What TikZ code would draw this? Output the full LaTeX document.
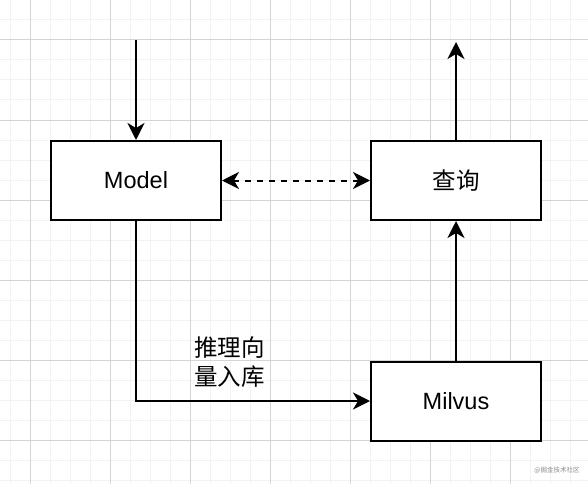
\documentclass[tikz,border=0pt]{standalone}
\usepackage{fontspec}
\setmainfont{Liberation Sans}
\newfontfamily\cjk{Noto Sans CJK SC}
\usetikzlibrary{arrows.meta}
\definecolor{minorgrid}{HTML}{F2F2F2}
\definecolor{majorgrid}{HTML}{D4D4D4}
\definecolor{wmark}{HTML}{8A8A8A}
\begin{document}
\begin{tikzpicture}[x=1pt,y=-1pt,
  box/.style={draw=black,line width=2pt,fill=white,minimum width=170pt,minimum height=79pt,inner sep=0pt,font=\fontsize{23.5}{28}\selectfont},
  arr/.style={line width=2pt,-{Stealth[length=17pt,width=17pt,inset=5pt]}},
  darr/.style={line width=2pt,dash pattern=on 6pt off 6pt,{Stealth[length=17pt,width=17pt,inset=5pt]}-{Stealth[length=17pt,width=17pt,inset=5pt]}},
  lbl/.style={font=\cjk\fontsize{23.5}{29}\selectfont,align=left,inner sep=0pt}]
\useasboundingbox (0,0) rectangle (588,484);
\fill[white] (0,0) rectangle (588,484);
% grid
\foreach \x in {10,30,...,590} {\draw[minorgrid,line width=1pt] (\x,0) -- (\x,484);}
\foreach \y in {0,20,...,480} {\draw[minorgrid,line width=1pt] (0,\y) -- (588,\y);}
\foreach \x in {30,110,...,590} {\draw[majorgrid,line width=1pt] (\x,0) -- (\x,484);}
\foreach \y in {40,120,...,480} {\draw[majorgrid,line width=1pt] (0,\y) -- (588,\y);}
% nodes
\node[box] (model) at (136,180.5) {Model};
\node[box] (query) at (456,180.5) {\cjk 查询};
\node[box] (milvus) at (456,401) {Milvus};
\coordinate (in1) at (136,40);
\coordinate (out1) at (456,42);
% connectors
\draw[arr] (in1) -- (model.north);
\draw[arr] (query.north) -- (out1);
\draw[arr] (milvus.north) -- (query.south);
\draw[arr] (model.south) |- (milvus.west);
\draw[darr] (model.east) -- (query.west);
\node[lbl,anchor=north west] (lab) at (194,337) {推理向\\量入库};
\node[font=\cjk\fontsize{6.5}{7}\selectfont,text=wmark,inner sep=0pt] (wm) at (557,470) {@掘金技术社区};
\end{tikzpicture}
\end{document}
